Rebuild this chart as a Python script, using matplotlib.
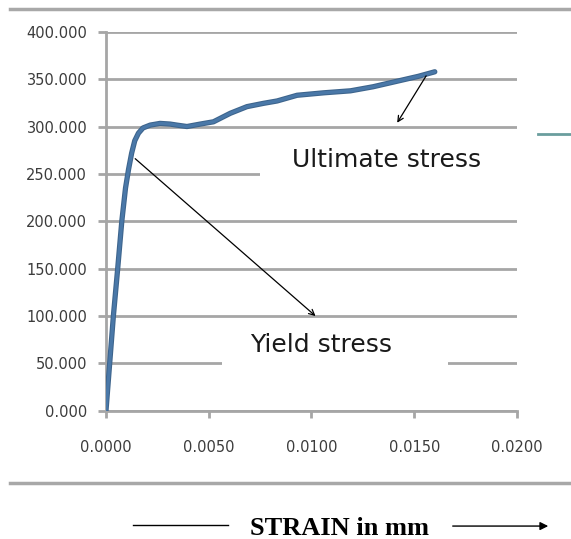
import matplotlib.pyplot as plt
from matplotlib.lines import Line2D
from matplotlib.patches import Rectangle

# stress-strain readings
strain = [0.0, 0.00036, 0.00057, 0.00077, 0.00095, 0.00110, 0.00125, 0.0014,
          0.00158, 0.00180, 0.00215, 0.00263, 0.00312, 0.00345, 0.00394, 0.00459,
          0.00523, 0.00605, 0.00686, 0.00767, 0.00833, 0.0093, 0.0106,
          0.0119, 0.0130, 0.0142, 0.0152, 0.0160]
stress = [0, 100, 150, 200, 235, 255, 272, 285,
          293, 298.5, 301.5, 303.3, 302.6, 301.5, 300, 302.6,
          305, 314, 321, 324.5, 327, 333, 335.6,
          337.7, 342, 348, 353, 357.8]

x_ticks = [0.0, 0.005, 0.010, 0.015, 0.020]
y_ticks = [0, 50, 100, 150, 200, 250, 300, 350, 400]

yield_point = (0.00132, 268)
yield_label = (0.0103, 98)
ult_point = (0.01565, 356)
ult_label = (0.0141, 301.5)

grid_col = '#a6a6a6'
line_col = '#4a78a8'

fig = plt.figure(figsize=(5.71, 5.39), dpi=100)
ax = fig.add_axes([0.1856, 0.238, 0.7198, 0.703])

ax.plot(strain, stress, color='#3d648c', lw=3.8, solid_capstyle='round',
        solid_joinstyle='round', zorder=3)
ax.plot(strain, stress, color=line_col, lw=2.3, solid_capstyle='round',
        solid_joinstyle='round', zorder=3)

ax.set_xlim(0, 0.02)
ax.set_ylim(0, 400)
ax.set_xticks(x_ticks)
ax.set_yticks(y_ticks)
ax.set_xticklabels(['%.4f' % v for v in x_ticks], fontsize=10.5, color='#3c3c3c')
ax.set_yticklabels(['%.3f' % v for v in y_ticks], fontsize=10.5, color='#3c3c3c')
ax.yaxis.grid(True, color=grid_col, lw=2, zorder=0)
ax.set_axisbelow(True)
ax.tick_params(axis='y', length=6, width=2, color=grid_col, pad=7.5)
ax.tick_params(axis='x', length=5, width=2, color=grid_col, pad=16)
for s in ['top', 'right']:
    ax.spines[s].set_visible(False)
for s in ['left', 'bottom']:
    ax.spines[s].set_color(grid_col)
    ax.spines[s].set_linewidth(2)

# white label boxes hide the gridlines
ax.add_patch(Rectangle((0.0075, 228), 0.0134, 56, facecolor='white',
                       edgecolor='none', clip_on=False, zorder=1))
ax.add_patch(Rectangle((0.00566, 40), 0.01097, 50, facecolor='white',
                       edgecolor='none', clip_on=False, zorder=1))

ax.annotate('', xy=yield_label, xytext=yield_point,
            arrowprops=dict(arrowstyle='->', color='black', lw=0.9), zorder=4)
ax.annotate('', xy=ult_label, xytext=ult_point,
            arrowprops=dict(arrowstyle='->', color='black', lw=0.9), zorder=4)
ax.text(0.01366, 264.6, 'Ultimate stress', fontsize=18, color='#1a1a1a',
        ha='center', va='center', zorder=2)
ax.text(0.01049, 69.9, 'Yield stress', fontsize=18, color='#1a1a1a',
        ha='center', va='center', zorder=2)

# frame lines of the screenshot
fig.add_artist(Line2D([0.017, 1.0], [0.983, 0.983], color='#a8a8a8', lw=2.5))
fig.add_artist(Line2D([0.017, 1.0], [0.104, 0.104], color='#a8a8a8', lw=2.5))
fig.add_artist(Line2D([0.942, 1.0], [0.751, 0.751], color='#6a9e9e', lw=2))

# axis caption
fig.text(0.595, 0.019, 'STRAIN in mm', fontsize=19, family='Liberation Serif',
         weight='bold', ha='center', va='center')
fig.add_artist(Line2D([0.233, 0.40], [0.026, 0.026], color='black', lw=1))
ax.annotate('', xy=(0.965, 0.024), xytext=(0.788, 0.024), xycoords='figure fraction',
            textcoords='figure fraction', annotation_clip=False,
            arrowprops=dict(arrowstyle='-|>', color='black', lw=1, mutation_scale=12))

fig.savefig('out.png', dpi=100)
